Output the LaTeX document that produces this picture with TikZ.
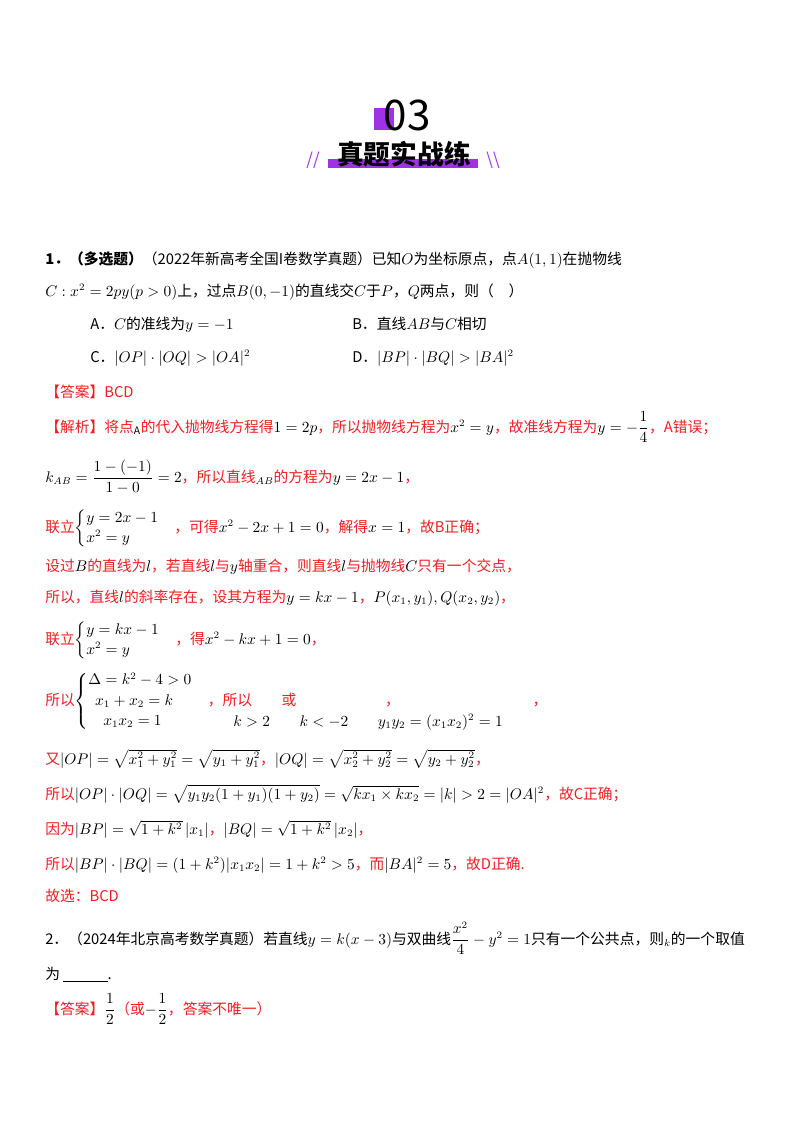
\documentclass[tikz,border=0pt]{standalone}
\usepackage{amsmath}
\usepackage{fontspec}
\setmainfont{Noto Sans CJK SC}
\usetikzlibrary{positioning}
\definecolor{ansred}{RGB}{238,30,36}
\definecolor{hdpurple}{RGB}{160,50,230}
\tikzset{
  ln/.style={anchor=base west,inner sep=0pt,font=\fontsize{10.5}{12}\selectfont},
  red ln/.style={ln,text=ansred},
}
\newcommand{\blk}[1]{{\color{black}$#1$}}
\begin{document}
\begin{tikzpicture}[x=0.025cm,y=-0.025cm]
\useasboundingbox (0,0) rectangle (800,1132);
% header
\fill[hdpurple] (374,108) rectangle (394,130);
\node[inner sep=0pt,font=\fontsize{30}{30}\selectfont] (num) at (407,115) {03};
\fill[hdpurple] (328,159) rectangle (478,168);
\node[inner sep=0pt,font=\fontsize{19}{19}\selectfont\bfseries] (title) at (404,154) {真题实战练};
\node[inner sep=0pt,text=hdpurple,font=\fontsize{12}{12}\selectfont\itshape] (sl1) at (313,160) {//};
\node[inner sep=0pt,text=hdpurple,font=\fontsize{12}{12}\selectfont\itshape] (sl2) at (493,160) {\textbackslash\textbackslash};
% problem 1
\node[ln] (p1a) at (45,264) {\textbf{1．（多选题）}（2022年新高考全国I卷数学真题）已知$O$为坐标原点，点$A(1,1)$在抛物线};
\node[ln] (p1b) at (45,296) {$C:x^2=2py(p>0)$上，过点$B(0,-1)$的直线交$C$于$P$，$Q$两点，则（\quad ）};
\node[ln] (oA) at (90,329) {A．$C$的准线为$y=-1$};
\node[ln] (oB) at (352,329) {B．直线$AB$与$C$相切};
\node[ln] (oC) at (90,362) {C．$|OP|\cdot|OQ|>|OA|^2$};
\node[ln] (oD) at (352,362) {D．$|BP|\cdot|BQ|>|BA|^2$};
\node[red ln] (ans1) at (45,397) {【答案】BCD};
\node[red ln] (s1) at (45,432) {【解析】将点\blk{_{\mathrm A}}的代入抛物线方程得\blk{1=2p}，所以抛物线方程为\blk{x^2=y}，故准线方程为\blk{y=-\dfrac14}，A错误；};
\node[red ln] (s2) at (45,482) {\blk{k_{AB}=\dfrac{1-(-1)}{1-0}=2}，所以直线\blk{_{AB}}的方程为\blk{y=2x-1}，};
\node[red ln] (s3) at (45,532) {联立\blk{\begin{cases}y=2x-1\\x^2=y\end{cases}}，可得\blk{x^2-2x+1=0}，解得\blk{x=1}，故B正确；};
\node[red ln] (s4) at (45,571) {设过\blk{B}的直线为\blk{l}，若直线\blk{l}与\blk{y}轴重合，则直线\blk{l}与抛物线\blk{C}只有一个交点，};
\node[red ln] (s5) at (45,602) {所以，直线\blk{l}的斜率存在，设其方程为\blk{y=kx-1}，\blk{P(x_1,y_1),Q(x_2,y_2)}，};
\node[red ln] (s6) at (45,644) {联立\blk{\begin{cases}y=kx-1\\x^2=y\end{cases}}，得\blk{x^2-kx+1=0}，};
\node[red ln] (s7) at (45,705) {所以\blk{\begin{cases}\Delta=k^2-4>0\\\ \ x_1+x_2=k\\\quad x_1x_2=1\end{cases}}，所以\qquad 或\qquad\qquad\qquad ，\qquad\qquad\qquad\qquad\quad ，};
\node[ln] (s7b) at (233,726) {$k>2\qquad k<-2\qquad y_1y_2=(x_1x_2)^2=1$};
\node[red ln] (s8) at (45,764) {又\blk{|OP|=\sqrt{x_1^2+y_1^2}=\sqrt{y_1+y_1^2}}，\blk{|OQ|=\sqrt{x_2^2+y_2^2}=\sqrt{y_2+y_2^2}}，};
\node[red ln] (s9) at (45,799) {所以\blk{|OP|\cdot|OQ|=\sqrt{y_1y_2(1+y_1)(1+y_2)}=\sqrt{kx_1\times kx_2}=|k|>2=|OA|^2}，故C正确；};
\node[red ln] (s10) at (45,834) {因为\blk{|BP|=\sqrt{1+k^2}\,|x_1|}，\blk{|BQ|=\sqrt{1+k^2}\,|x_2|}，};
\node[red ln] (s11) at (45,869) {所以\blk{|BP|\cdot|BQ|=(1+k^2)|x_1x_2|=1+k^2>5}，而\blk{|BA|^2=5}，故D正确.};
\node[red ln] (s12) at (45,901) {故选：BCD};
% problem 2
\node[ln] (p2a) at (45,944) {2．（2024年北京高考数学真题）若直线$y=k(x-3)$与双曲线$\dfrac{x^2}{4}-y^2=1$只有一个公共点，则$_k$的一个取值};
\node[ln] (p2b) at (45,979) {为\ \underline{\hspace{3em}}.};
\node[red ln] (ans2) at (45,1014) {【答案】\blk{\dfrac12}（或\blk{-\dfrac12}，答案不唯一）};
\end{tikzpicture}
\end{document}
